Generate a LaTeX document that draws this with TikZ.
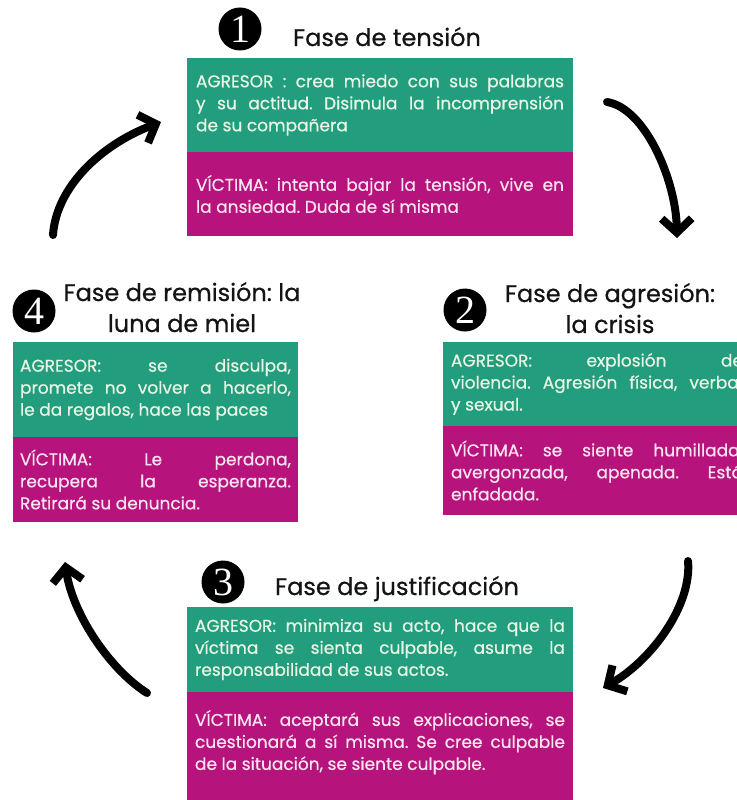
\documentclass[tikz,border=0pt]{standalone}
\usepackage{fontspec}
\setmainfont{Poppins}[FakeBold=0.6]
\newfontfamily\numfont{Liberation Serif}
\usetikzlibrary{positioning,arrows.meta}
\definecolor{verde}{RGB}{34,157,125}
\definecolor{fucsia}{RGB}{182,19,124}
\definecolor{txtverde}{RGB}{232,245,228}
\definecolor{txtfucsia}{RGB}{250,228,240}
\tolerance=9999 \hbadness=10000 \frenchspacing
\tikzstyle{agresor}=[fill=verde,text=txtverde,align=justify,inner xsep=9pt,
  outer sep=0pt,font=\fontsize{17}{22}\selectfont]
\tikzstyle{victima}=[fill=fucsia,text=txtfucsia,align=justify,inner xsep=9pt,
  outer sep=0pt,font=\fontsize{17}{22}\selectfont]
\tikzstyle{fase}=[text=black!92,font=\fontsize{24}{31}\selectfont,align=center,
  inner sep=0pt]
\tikzstyle{numero}=[circle,fill=black,text=white,minimum size=43pt,inner sep=0pt,
  font=\numfont\fontsize{40}{40}\selectfont]
\tikzstyle{flecha}=[->,line width=8pt,line cap=round,line join=round]

\begin{document}
\begin{tikzpicture}[x=1pt,y=-1pt,>={Straight Barb[length=14pt,width=30pt]}]
	\useasboundingbox (0,0) rectangle (736,800);

	% fase 1
	\node[agresor,text width=368pt,minimum height=94pt,anchor=north west] (agr1) at (187,58)
		{AGRESOR : crea miedo con sus palabras\linebreak y su actitud. Disimula la incomprensión\linebreak de su compañera};
	\node[victima,text width=368pt,minimum height=84pt,below=0pt of agr1] (vic1)
		{VÍCTIMA: intenta bajar la tensión, vive en\linebreak la ansiedad. Duda de sí misma};
	\node[fase,anchor=base] (tit1) at (387,46) {Fase de tensión};
	\node[numero] (num1) at (240,29) {1};

	% fase 2
	\node[agresor,text width=292pt,inner xsep=8pt,minimum height=84pt,anchor=north west] (agr2) at (443,342)
		{AGRESOR: explosión de\linebreak violencia. Agresión física, verbal\linebreak y sexual.};
	\node[victima,text width=292pt,inner xsep=8pt,minimum height=89pt,below=0pt of agr2] (vic2)
		{VÍCTIMA: se siente humillada,\linebreak avergonzada, apenada. Está\linebreak enfadada.};
	\node[fase,anchor=base] (tit2) at (610,333) {Fase de agresión:\\la crisis};
	\node[numero] (num2) at (465,310) {2};

	% fase 3
	\node[agresor,text width=370pt,inner xsep=8pt,minimum height=85pt,anchor=north west] (agr3) at (187,607)
		{AGRESOR: minimiza su acto, hace que la\linebreak víctima se sienta culpable, asume la\linebreak responsabilidad de sus actos.};
	\node[victima,text width=370pt,inner xsep=8pt,minimum height=115pt,below=0pt of agr3] (vic3)
		{VÍCTIMA: aceptará sus explicaciones, se\linebreak cuestionará a sí misma. Se cree culpable\linebreak de la situación, se siente culpable.\\[-3pt]\mbox{}};
	\node[fase,anchor=base] (tit3) at (397,595) {Fase de justificación};
	\node[numero] (num3) at (223,582) {3};

	% fase 4
	\node[agresor,text width=271pt,inner xsep=7pt,minimum height=95pt,anchor=north west] (agr4) at (13,342)
		{AGRESOR: se disculpa,\linebreak promete no volver a hacerlo,\linebreak le da regalos, hace las paces};
	\node[victima,text width=271pt,inner xsep=7pt,minimum height=85pt,below=0pt of agr4] (vic4)
		{VÍCTIMA: Le perdona,\linebreak recupera la esperanza.\linebreak Retirará su denuncia.};
	\node[fase,anchor=base] (tit4) at (182,332) {Fase de remisión: la\\luna de miel};
	\node[numero] (num4) at (34,311) {4};

	% flechas del ciclo
	\coordinate (f1a) at (607,102);  \coordinate (f1b) at (677,238);
	\coordinate (f2a) at (688,561);  \coordinate (f2b) at (603,688);
	\coordinate (f3a) at (147,693);  \coordinate (f3b) at (65,562);
	\coordinate (f4a) at (53,235);   \coordinate (f4b) at (161,122);
	\draw[flecha] (f1a) .. controls (645,108) and (676,180) .. (f1b);
	\draw[flecha] (f2a) .. controls (692,605) and (652,660) .. (f2b);
	\draw[flecha] (f3a) .. controls (108,668) and (72,612) .. (f3b);
	\draw[flecha] (f4a) .. controls (56,188) and (100,145) .. (f4b);
\end{tikzpicture}
\end{document}
